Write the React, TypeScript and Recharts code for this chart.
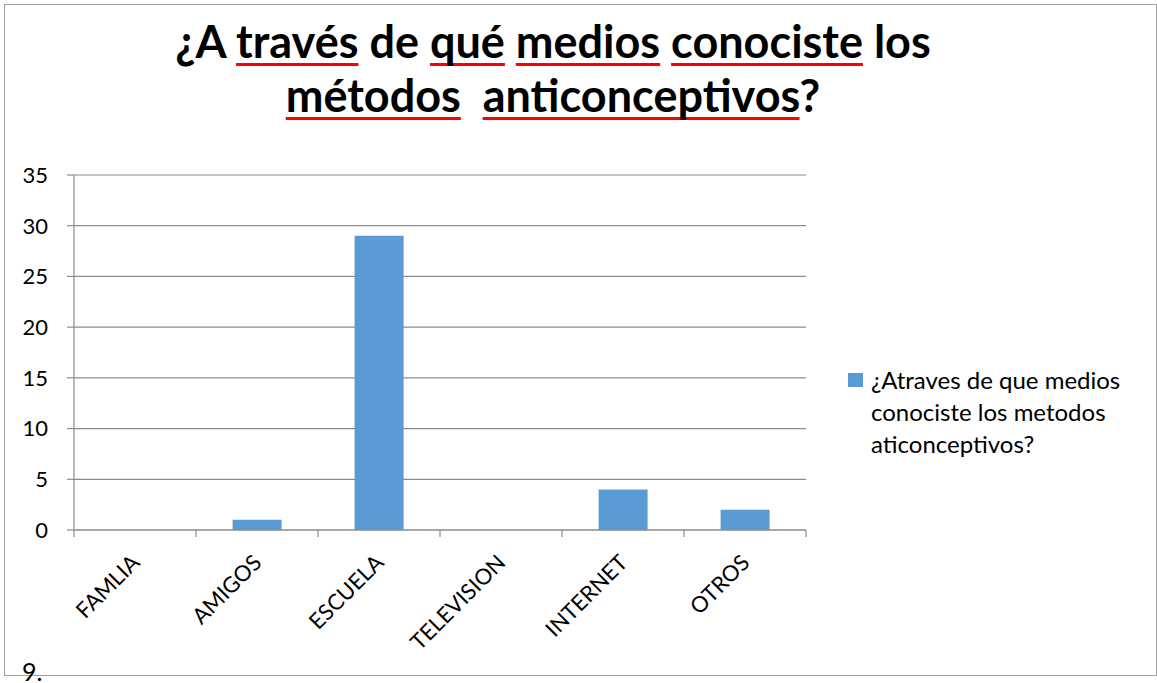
import React from 'react';
import { BarChart, Bar, XAxis, YAxis, CartesianGrid, Legend } from 'recharts';

const categories = ['FAMLIA', 'AMIGOS', 'ESCUELA', 'TELEVISION', 'INTERNET', 'OTROS'];
const values = [0, 1, 29, 0, 4, 2];
const seriesName = '¿Atraves de que medios conociste los metodos aticonceptivos?';
const yTicks = [0, 5, 10, 15, 20, 25, 30, 35];
const titleLine1: [string, boolean][] = [
  ['¿A ', false], ['través', true], [' de ', false], ['qué', true], [' ', false],
  ['medios', true], [' ', false], ['conociste', true], [' los', false],
];
const titleLine2: [string, boolean][] = [
  ['métodos', true], ['  ', false], ['anticonceptivos', true], ['?', false],
];
const footnote = '9.';

const data = categories.map((c, i) => ({ name: c, value: values[i] }));

const W = 1157;
const H = 683;
const PLOT_LEFT = 74;
const PLOT_RIGHT = 806;
const LEGEND_W = 300;
const HALF_BAND = (PLOT_RIGHT - PLOT_LEFT) / categories.length / 2;
const GRAY = '#8c8c8c';
const FONT = 'Lato, "Open Sans", sans-serif';

const XTick = (props: any) => {
  const { x, y, payload, index } = props;
  const last = index === categories.length - 1;
  const ax = x + 6;
  const ay = y + 34;
  return (
    <g>
      <line x1={x - HALF_BAND} x2={x - HALF_BAND} y1={y} y2={y + 7} stroke={GRAY} strokeWidth={1.2} />
      {last && <line x1={x + HALF_BAND} x2={x + HALF_BAND} y1={y} y2={y + 7} stroke={GRAY} strokeWidth={1.2} />}
      <text
        x={ax}
        y={ay}
        textAnchor="end"
        fill="#000"
        fontSize={22}
        fontFamily={FONT}
        transform={`rotate(-45, ${ax}, ${ay})`}
      >
        {payload.value}
      </text>
    </g>
  );
};

const LegendContent = () => (
  <div style={{ display: 'flex', alignItems: 'flex-start', fontFamily: FONT, fontSize: 24, color: '#000' }}>
    <div style={{ width: 15, height: 14, background: '#5B9BD5', marginTop: 9, marginRight: 8, flexShrink: 0 }} />
    <div style={{ width: 275, lineHeight: '32px' }}>{seriesName}</div>
  </div>
);

const renderWords = (words: [string, boolean][]) =>
  words.map(([w, u], i) => (
    <span
      key={i}
      style={
        u
          ? {
              textDecorationLine: 'underline',
              textDecorationColor: '#ff0000',
              textDecorationThickness: '3px',
              textUnderlineOffset: '5px',
              textDecorationSkipInk: 'none',
            }
          : undefined
      }
    >
      {w}
    </span>
  ));

export default function App() {
  return (
    <div style={{ position: 'absolute', left: 0, top: 0, width: W, height: H, background: '#fff', fontFamily: FONT, overflow: 'hidden' }}>
      <div style={{ position: 'absolute', left: 4, top: 4, width: 1151, height: 670, border: '1.5px solid #a0a0a0' }} />
      <div
        style={{
          position: 'absolute',
          left: 0,
          top: 14,
          width: 1106,
          textAlign: 'center',
          fontWeight: 700,
          fontSize: 45,
          lineHeight: '54px',
          whiteSpace: 'pre',
          color: '#000',
        }}
      >
        <div>{renderWords(titleLine1)}</div>
        <div>{renderWords(titleLine2)}</div>
      </div>
      <div style={{ position: 'absolute', left: 0, top: 0 }}>
        <BarChart
          width={W}
          height={H}
          data={data}
          margin={{ top: 175, right: W - PLOT_RIGHT - LEGEND_W, left: 14, bottom: 0 }}
          barCategoryGap="30%"
        >
          <CartesianGrid vertical={false} stroke={GRAY} strokeWidth={1.2} />
          <XAxis
            dataKey="name"
            height={153}
            interval={0}
            tickLine={false}
            tickSize={0}
            tickMargin={0}
            axisLine={{ stroke: GRAY, strokeWidth: 1.2 }}
            tick={<XTick />}
          />
          <YAxis
            width={60}
            domain={[0, 35]}
            ticks={yTicks}
            interval={0}
            tickSize={7}
            tickMargin={19}
            tickLine={{ stroke: GRAY, strokeWidth: 1.2 }}
            axisLine={{ stroke: GRAY, strokeWidth: 1.2 }}
            tick={{ fill: '#000', fontSize: 22, fontFamily: FONT }}
          />
          <Legend
            layout="vertical"
            align="right"
            verticalAlign="middle"
            content={<LegendContent />}
            wrapperStyle={{ left: 848, top: 364, right: 'auto', width: LEGEND_W }}
          />
          <Bar dataKey="value" name={seriesName} fill="#5B9BD5" isAnimationActive={false} />
        </BarChart>
      </div>
      <div style={{ position: 'absolute', left: 22, top: 656, fontSize: 25, color: '#000', lineHeight: '30px' }}>{footnote}</div>
    </div>
  );
}
